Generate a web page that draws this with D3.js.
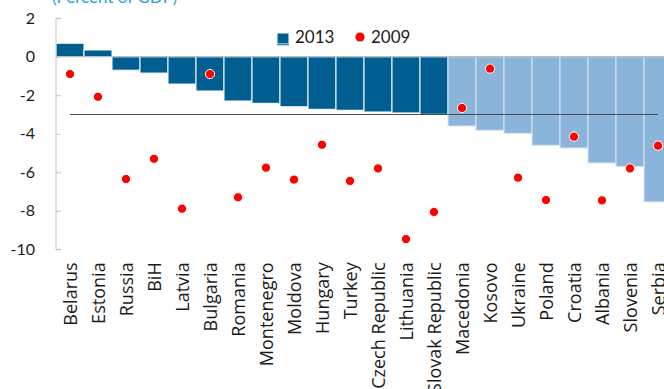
<!DOCTYPE html>
<html><head><meta charset="utf-8">
<script src="https://cdn.jsdelivr.net/npm/d3@7"></script>
<style>body{margin:0;background:#fff;overflow:hidden}</style>
</head><body><svg id="c" width="664" height="389"></svg>
<script>
const categories = ["Belarus","Estonia","Russia","BiH","Latvia","Bulgaria","Romania","Montenegro","Moldova","Hungary","Turkey","Czech Republic","Lithuania","Slovak Republic","Macedonia","Kosovo","Ukraine","Poland","Croatia","Albania","Slovenia","Serbia"];
const values2013 = [0.7,0.35,-0.7,-0.85,-1.42,-1.78,-2.3,-2.42,-2.6,-2.73,-2.78,-2.87,-2.92,-2.99,-3.6,-3.82,-3.98,-4.6,-4.74,-5.52,-5.71,-7.54];
const values2009 = [-0.9,-2.08,-6.35,-5.3,-7.89,-0.9,-7.3,-5.76,-6.38,-4.57,-6.45,-5.8,-9.47,-8.06,-2.66,-0.62,-6.28,-7.44,-4.15,-7.46,-5.8,-4.62];
const referenceLine = -3;
const yTicks = [2,0,-2,-4,-6,-8,-10];
const seriesNames = ["2013","2009"];
const titleText = "(Percent of GDP)";

const svg = d3.select("#c");
const x = d3.scaleBand().domain(categories).range([56, 672]).padding(0);
const y = d3.scaleLinear().domain([-10, 2]).range([249.3, 18.2]);
const dark = "#005e91", light = "#8ab4d9", red = "#ff0000";

// title (clipped at top)
svg.append("text").attr("x", 52).attr("y", 3).text(titleText)
  .style("font-family", "Lato").style("font-size", "17px").attr("fill", "#2a9fd8");

// bars
svg.append("g").selectAll("rect").data(categories).join("rect")
  .attr("x", d => x(d))
  .attr("width", x.bandwidth())
  .attr("y", (d, i) => y(Math.max(0, values2013[i])))
  .attr("height", (d, i) => Math.abs(y(values2013[i]) - y(0)))
  .attr("fill", (d, i) => values2013[i] >= referenceLine ? dark : light)
  .attr("stroke", (d, i) => values2013[i] >= referenceLine ? "#ffffff" : "#dbe7f3")
  .attr("stroke-width", 1);

// zero line
svg.append("line").attr("x1", x.range()[0]).attr("x2", x.range()[1])
  .attr("y1", y(0)).attr("y2", y(0)).attr("stroke", "#bdbdbd").attr("stroke-width", 1.2);

// reference line
svg.append("line")
  .attr("x1", x(categories[0]) + x.bandwidth() / 2)
  .attr("x2", x(categories[categories.length - 1]) + x.bandwidth() / 2)
  .attr("y1", y(referenceLine)).attr("y2", y(referenceLine))
  .attr("stroke", "#4a4a4a").attr("stroke-width", 1);

// y axis
const yAxis = d3.axisRight(y).tickValues(yTicks).tickSize(5).tickFormat(d3.format("d"));
const ga = svg.append("g").attr("transform", "translate(56,0)").call(yAxis);
ga.select(".domain").attr("stroke", "#c4c4c4").attr("d", `M5,${y(2)}H0V${y(-10)}H5`);
ga.selectAll(".tick line").attr("stroke", "#c4c4c4");
ga.selectAll(".tick text").attr("x", -21).attr("text-anchor", "end")
  .style("font-family", "Lato").style("font-size", "16px").attr("fill", "#1a1a1a")
  .text(d => d < 0 ? "-" + Math.abs(d) : d);

// x labels
const gx = svg.append("g").attr("transform", `translate(0,${y(-10)})`)
  .call(d3.axisBottom(x).tickSize(0));
gx.select(".domain").remove();
const xt = gx.selectAll(".tick text")
  .style("font-family", "'Open Sans', 'DejaVu Sans', sans-serif").style("font-size", "16px").attr("fill", "#1a1a1a")
  .attr("transform", "rotate(-90)")
  .attr("text-anchor", "end")
  .attr("x", -13).attr("y", 0).attr("dy", "0.36em");
// fit label size so "Montenegro" spans about the same length as in the source
const probe = xt.filter(d => d === "Montenegro").node();
const len = probe.getComputedTextLength();
const fs = Math.max(14, Math.min(22, 16 * 104 / len));
xt.style("font-size", fs + "px");

// dots
svg.append("g").selectAll("circle").data(categories).join("circle")
  .attr("cx", d => x(d) + x.bandwidth() / 2)
  .attr("cy", (d, i) => y(values2009[i]))
  .attr("r", 4.6)
  .attr("fill", red).attr("stroke", "#ffffff").attr("stroke-width", 1);

// legend
const lg = svg.append("g");
lg.append("rect").attr("x", 277.5).attr("y", 33.5).attr("width", 11).attr("height", 10).attr("fill", dark);
lg.append("line").attr("x1", 277).attr("x2", 289).attr("y1", 44.8).attr("y2", 44.8).attr("stroke", dark).attr("stroke-width", 1);
lg.append("text").attr("x", 295).attr("y", 43).text(seriesNames[0])
  .style("font-family", "Lato").style("font-size", "17px").attr("fill", "#1a1a1a");
lg.append("circle").attr("cx", 360).attr("cy", 37).attr("r", 4.6).attr("fill", red);
lg.append("text").attr("x", 371).attr("y", 43).text(seriesNames[1])
  .style("font-family", "Lato").style("font-size", "17px").attr("fill", "#1a1a1a");
</script></body></html>
